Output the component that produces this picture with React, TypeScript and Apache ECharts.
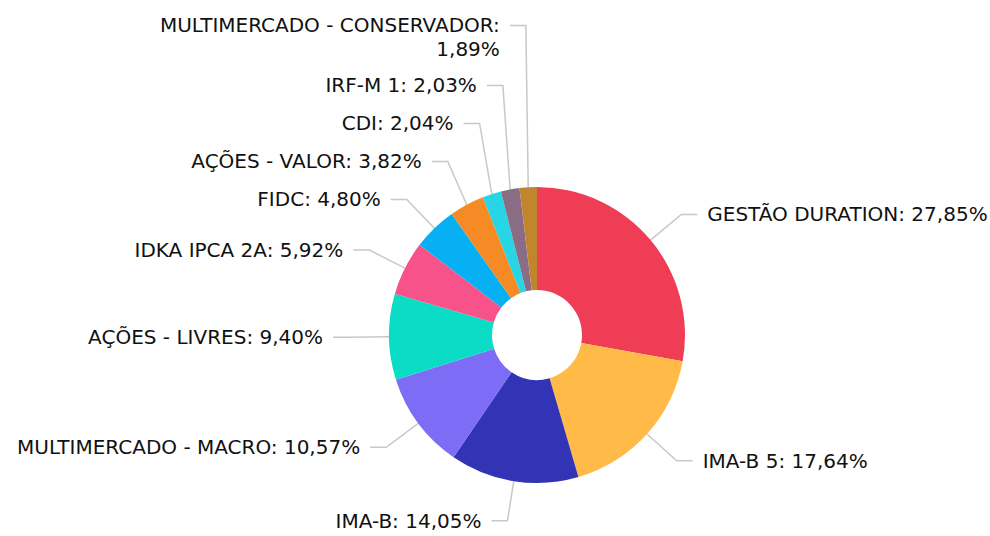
import React, { useEffect, useRef } from "react";
import * as echarts from "echarts";

const categories = [
  "GESTÃO DURATION",
  "IMA-B 5",
  "IMA-B",
  "MULTIMERCADO - MACRO",
  "AÇÕES - LIVRES",
  "IDKA IPCA 2A",
  "FIDC",
  "AÇÕES - VALOR",
  "CDI",
  "IRF-M 1",
  "MULTIMERCADO - CONSERVADOR",
];
const values = [27.85, 17.64, 14.05, 10.57, 9.4, 5.92, 4.8, 3.82, 2.04, 2.03, 1.89];
const colors = [
  "#ee3d54",
  "#ffba47",
  "#3333b5",
  "#7d6df6",
  "#0bdcc6",
  "#f7528a",
  "#07b0f2",
  "#f68b25",
  "#27d5e5",
  "#8a6d85",
  "#bf862e",
];
const wrapAfterColon = ["MULTIMERCADO - CONSERVADOR"];

// geometry / style
const CX = 537;
const CY = 335;
const R_IN = 45;
const R_OUT = 148;
const LEN1 = 40;
const LEN2 = 16;
const LINE_H = 24;
const SLOT = 38; // vertical slot taken by a one-line label
const EXTRA_LINE_SLOT = 20; // extra slot per additional text line
const LABEL_GAP = 10;

const fmt = (v: number) => v.toFixed(2).replace(".", ",") + "%";
const labelText = (name: string, v: number) =>
  wrapAfterColon.includes(name) ? `${name}:\n${fmt(v)}` : `${name}: ${fmt(v)}`;

// Natural label position at the end of the first label-line segment,
// then labels pushed upward (from the bottom) so they don't overlap.
function computeLabelTargets() {
  const total = values.reduce((a, b) => a + b, 0);
  let cum = 0;
  const items = values.map((v, i) => {
    const mid = ((cum + v / 2) / total) * Math.PI * 2;
    cum += v;
    const x = CX + (R_OUT + LEN1) * Math.sin(mid);
    const y = CY - (R_OUT + LEN1) * Math.cos(mid);
    const lines = labelText(categories[i], v).split("\n").length;
    return { i, x, y, side: x < CX ? -1 : 1, h: SLOT + (lines - 1) * EXTRA_LINE_SLOT, lines, ny: y };
  });
  [-1, 1].forEach((side) => {
    const list = items.filter((it) => it.side === side).sort((a, b) => b.y - a.y);
    for (let k = 1; k < list.length; k++) {
      const prev = list[k - 1];
      const cur = list[k];
      const maxY = prev.ny - (prev.h / 2 + cur.h / 2);
      cur.ny = Math.min(cur.y, maxY);
    }
  });
  return items;
}

export default function App() {
  const ref = useRef<HTMLDivElement>(null);
  useEffect(() => {
    if (!ref.current) return;
    const targets = computeLabelTargets();
    const chart = echarts.init(ref.current, null, { renderer: "svg" });
    chart.setOption({
      animation: false,
      color: colors,
      series: [
        {
          type: "pie",
          center: [CX, CY],
          radius: [R_IN, R_OUT],
          startAngle: 90,
          clockwise: true,
          avoidLabelOverlap: false,
          data: categories.map((c, i) => ({ name: c, value: values[i] })),
          label: {
            show: true,
            fontFamily: "DejaVu Sans",
            fontSize: 20,
            lineHeight: LINE_H,
            padding: [6, 0, 0, 0],
            color: "#111",
            overflow: "none",
            distanceToLabelLine: LABEL_GAP,
            formatter: (p: any) => labelText(p.name, p.value as number),
          },
          labelLine: {
            show: true,
            length: LEN1,
            length2: LEN2,
            lineStyle: { color: "#c8c8c8", width: 1.5 },
          },
          labelLayout: (params: any) => {
            const t = targets[params.dataIndex];
            const pts = params.labelLinePoints;
            if (!t || !pts || Math.abs(t.ny - t.y) < 0.5) return {};
            const lineY = t.ny - ((t.lines - 1) * LINE_H) / 2;
            const p1 = [pts[1][0], lineY];
            const p2 = [pts[2][0], lineY];
            return {
              x: p2[0] + t.side * LABEL_GAP,
              y: t.ny,
              labelLinePoints: [pts[0], p1, p2],
            };
          },
          emphasis: { disabled: true },
        },
      ],
    });
    return () => chart.dispose();
  }, []);
  return (
    <div
      ref={ref}
      style={{ position: "fixed", left: 0, top: 0, width: 990, height: 536, background: "#fff" }}
    />
  );
}
